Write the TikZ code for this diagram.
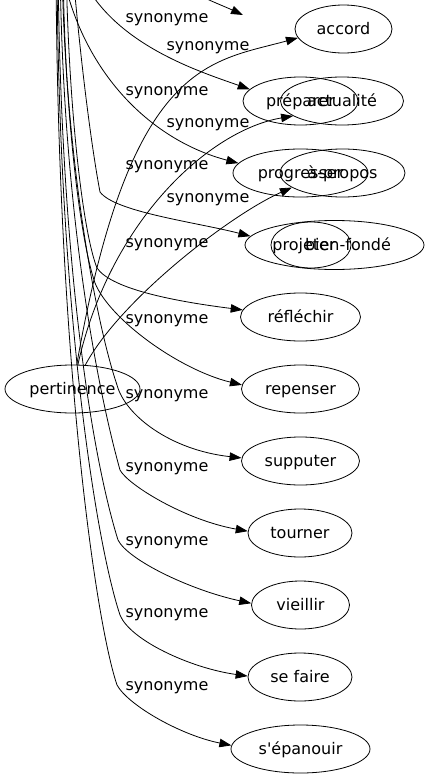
\documentclass[tikz,border=0pt]{standalone}
\usepackage{fontspec}
\setmainfont{DejaVu Sans}
\usetikzlibrary{shapes.geometric,arrows.meta}
\tikzset{
  word/.style={ellipse,draw,line width=0.8pt,inner sep=0pt,minimum height=48pt,
    text height=12pt,text depth=2pt,font=\fontsize{16}{19}\selectfont},
  bare/.style={ellipse,draw,line width=0.8pt,inner sep=0pt},
  txt/.style={inner sep=0pt,text height=12pt,text depth=2pt,font=\fontsize{16}{19}\selectfont},
  rel/.style={inner sep=0pt,text height=12pt,text depth=2pt,font=\fontsize{16}{19}\selectfont},
  link/.style={line width=0.8pt,-{Triangle[length=12pt,width=8.5pt]}},
}
\begin{document}
\begin{tikzpicture}[x=1pt,y=-1pt]
\useasboundingbox (0,0) rectangle (426,779);
\fill[white] (0,0) rectangle (426,779);
\clip (0,0) rectangle (426,779);

% nodes
\node[word,minimum width=135pt] (pertinence) at (72.5,389) {pertinence};
\node[word,minimum width=97pt] (accord) at (343.5,29) {accord};
\node[word,minimum width=115pt] (preparer) at (300.5,101) {préparer};
\node[word,minimum width=123pt] (actualite) at (342,101) {actualité};
\node[word,minimum width=135pt] (progresser) at (300.5,173) {progresser};
\node[word,minimum width=125pt] (apropos) at (342.5,173) {à-propos};
\node[bare,minimum width=80pt,minimum height=46pt] (projeter) at (311,245) {};
\node[bare,minimum width=179pt,minimum height=49pt] (bienfonde) at (334.5,245) {};
\node[txt] (projetertxt) at (304,245) {projeter};
\node[txt] (bienfondetxt) at (348,245) {bien-fondé};
\node[word,minimum width=120pt] (reflechir) at (300.5,317) {réfléchir};
\node[word,minimum width=118pt] (repenser) at (300.5,389) {repenser};
\node[word,minimum width=118pt] (supputer) at (300.5,461) {supputer};
\node[word,minimum width=104pt] (tourner) at (300,533) {tourner};
\node[word,minimum width=98pt] (vieillir) at (300.5,605) {vieillir};
\node[word,minimum width=104pt] (sefaire) at (300,677) {se faire};
\node[word,minimum width=139pt] (sepanouir) at (300.5,749) {s\textquotesingle épanouir};

% edges coming from above the frame
\coordinate (s0) at (150,-40);
\coordinate (tip0) at (243,15);
\coordinate (s1) at (75,-40);
\coordinate (s2) at (60,-40);
\coordinate (s3) at (72,-40);
\coordinate (s4) at (66,-40);
\coordinate (s5) at (63,-40);
\coordinate (s6) at (62,-40);
\coordinate (s7) at (60,-40);
\coordinate (s8) at (58,-40);
\coordinate (s9) at (57,-40);
\coordinate (s10) at (56,-40);

\draw[link] (s0) .. controls (178,-10) and (215,2) .. (tip0);
\draw[link] (s1) .. controls (100,40) and (195,70) .. (preparer.167);
\draw[link] (s2) .. controls (78,70) and (150,140) .. (progresser.171);
\draw[link] (s3) .. controls (80,60) and (92,150) .. (100,192) .. controls (115,212) and (195,222) .. (bienfonde.174);
\draw[link] (s4) .. controls (68,100) and (82,230) .. (97,268) .. controls (112,290) and (180,302) .. (reflechir.173);
\draw[link] (s5) .. controls (64,110) and (80,240) .. (95,283) .. controls (110,320) and (180,370) .. (repenser.176);
\draw[link] (s6) .. controls (64,150) and (95,320) .. (117,385) .. controls (125,415) and (170,450) .. (supputer.177);
\draw[link] (s7) .. controls (62,200) and (95,380) .. (120,470) .. controls (128,485) and (185,520) .. (tourner.178);
\draw[link] (s8) .. controls (60,250) and (90,450) .. (118,540) .. controls (128,560) and (190,590) .. (vieillir.178);
\draw[link] (s9) .. controls (58,300) and (95,540) .. (120,615) .. controls (130,640) and (190,668) .. (sefaire.179);
\draw[link] (s10) .. controls (57,350) and (95,620) .. (117,685) .. controls (128,705) and (180,735) .. (sepanouir.177);

% edges from pertinence
\draw[link] (pertinence) .. controls (130,60) and (210,62) .. (accord.191);
\draw[link] (pertinence) .. controls (110,220) and (210,130) .. (actualite.197);
\draw[link] (pertinence) .. controls (120,300) and (230,215) .. (apropos.196);

% edge labels
\node[rel] (l1) at (167,17) {synonyme};
\node[rel] (l2) at (167,90) {synonyme};
\node[rel] (l3) at (167,164) {synonyme};
\node[rel] (l4) at (167,242) {synonyme};
\node[rel] (l5) at (167,318) {synonyme};
\node[rel] (l6) at (167,393) {synonyme};
\node[rel] (l7) at (167,466) {synonyme};
\node[rel] (l8) at (167,540) {synonyme};
\node[rel] (l9) at (167,612) {synonyme};
\node[rel] (l10) at (167,685) {synonyme};
\node[rel] (r1) at (208,45) {synonyme};
\node[rel] (r2) at (208,122) {synonyme};
\node[rel] (r3) at (208,197) {synonyme};
\end{tikzpicture}
\end{document}
